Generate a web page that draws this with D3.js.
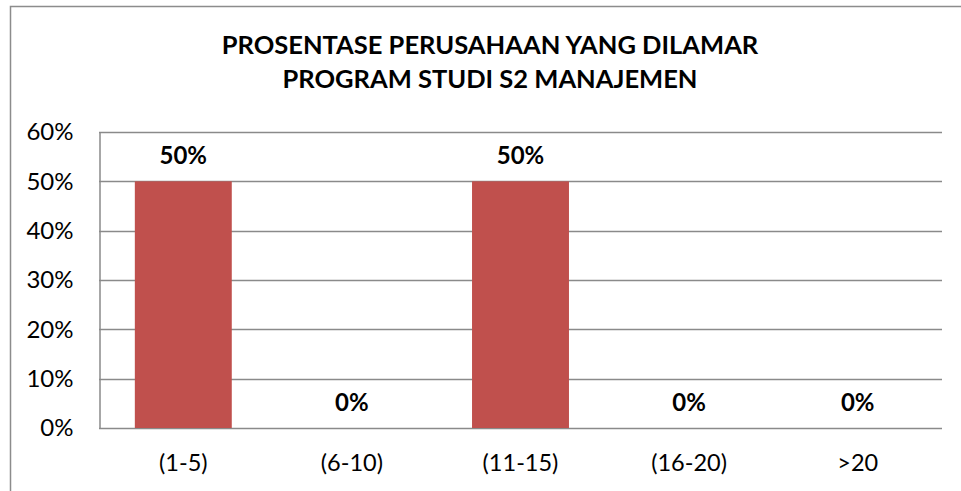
<!DOCTYPE html>
<html>
<head>
<meta charset="utf-8">
<script src="https://cdn.jsdelivr.net/npm/d3@7"></script>
<style>
  body { margin: 0; background: #fff; }
  svg { display: block; font-family: Lato, "Open Sans", sans-serif; }
</style>
</head>
<body>
<svg id="chart"></svg>
<script>
// Data
const categories = ["(1-5)", "(6-10)", "(11-15)", "(16-20)", ">20"];
const values = [0.5, 0, 0.5, 0, 0];
const yTicks = [0, 0.1, 0.2, 0.3, 0.4, 0.5, 0.6];
const titleLines = ["PROSENTASE PERUSAHAAN YANG DILAMAR", "PROGRAM STUDI S2 MANAJEMEN"];

const width = 961, height = 491;
const margin = {top: 132, left: 99, right: 19, bottom: 63};

const svg = d3.select("#chart")
  .attr("width", width)
  .attr("height", height);

// outer chart frame (runs past the picture edge)
svg.append("rect")
  .attr("x", 10.5).attr("y", 6.5)
  .attr("width", 1000).attr("height", 600)
  .attr("fill", "none")
  .attr("stroke", "#8c8c8c")
  .attr("stroke-width", 1.5);

// title
svg.append("g").selectAll("text")
  .data(titleLines)
  .enter()
  .append("text")
  .attr("x", 490)
  .attr("y", (d, i) => 54 + i * 34)
  .attr("text-anchor", "middle")
  .attr("font-weight", "bold")
  .attr("font-size", 25.5)
  .attr("fill", "#000")
  .text(d => d);

const x = d3.scaleBand()
  .domain(categories)
  .range([margin.left, width - margin.right])
  .paddingInner(0.425)
  .paddingOuter(0.2125);

const y = d3.scaleLinear()
  .domain([0, 0.6])
  .range([height - margin.bottom, margin.top]);

//Gridlines.
svg.append("g")
  .selectAll("line")
  .data(yTicks)
  .enter()
  .append("line")
  .attr("x1", margin.left)
  .attr("x2", width - margin.right)
  .attr("y1", d => Math.round(y(d)) + 0.5)
  .attr("y2", d => Math.round(y(d)) + 0.5)
  .attr("stroke", "#8a8a8a")
  .attr("stroke-width", 1.5);

// y axis
const yAxis = svg.append("g")
  .attr("transform", `translate(${margin.left + 0.5},0)`)
  .call(d3.axisLeft(y).tickValues(yTicks).tickFormat(d3.format(".0%")).tickSize(0).tickPadding(26));
yAxis.select(".domain").attr("stroke", "#8a8a8a").attr("stroke-width", 1.5);
yAxis.selectAll("text")
  .attr("font-size", 24)
  .attr("font-family", "Lato, sans-serif")
  .attr("fill", "#000");

// bars
svg.append("g")
  .selectAll("rect")
  .data(values)
  .enter()
  .append("rect")
  .attr("x", (d, i) => x(categories[i]))
  .attr("width", x.bandwidth())
  .attr("y", d => y(d))
  .attr("height", d => y(0) - y(d))
  .attr("fill", "#c0504d");

// data labels
svg.append("g")
  .selectAll("text")
  .data(values)
  .enter()
  .append("text")
  .attr("x", (d, i) => x(categories[i]) + x.bandwidth() / 2)
  .attr("y", d => y(d) - 17)
  .attr("text-anchor", "middle")
  .attr("font-weight", "bold")
  .attr("font-size", 24)
  .text(d => d3.format(".0%")(d));

// x axis
const xAxis = svg.append("g")
  .attr("transform", `translate(0,${y(0)})`)
  .call(d3.axisBottom(x).tickSize(0).tickPadding(26));
xAxis.select(".domain").remove();
xAxis.selectAll("text")
  .attr("font-size", 23.5)
  .attr("font-family", "Lato, sans-serif")
  .attr("fill", "#000");
</script>
</body>
</html>
